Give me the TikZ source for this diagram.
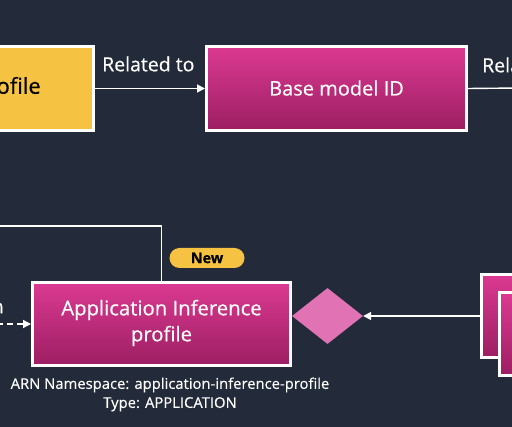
\documentclass[tikz,border=0pt]{standalone}
\usepackage{fontspec}
\setmainfont{Open Sans}[FakeBold=0.35]
\usetikzlibrary{shapes.geometric,arrows.meta}
\definecolor{bg}{HTML}{232B3A}
\definecolor{magtop}{HTML}{DB3A91}
\definecolor{magbot}{HTML}{9C1E62}
\definecolor{amber}{HTML}{F5C242}
\definecolor{dia}{HTML}{E173B5}
\tikzset{
  magbox/.style={draw=white, line width=3pt, top color=magtop, bottom color=magbot, inner sep=0pt, minimum height=83pt},
  ambbox/.style={draw=white, line width=3pt, fill=amber, inner sep=0pt, minimum height=84pt},
  lbl/.style={text=white, font=\fontsize{19.5}{22}\selectfont, inner sep=0pt},
  conn/.style={draw=white, line width=1.4pt, -{Triangle[width=8pt,length=8pt]}},
}
\begin{document}
\begin{tikzpicture}[x=1pt,y=-1pt]
\fill[bg] (0,0) rectangle (512,427);
\useasboundingbox (0,0) rectangle (512,427);
% top row
\node[ambbox, minimum width=192pt] (sys) at (-2.5,88.5) {};
\node[inner sep=0pt, anchor=east, font=\fontsize{22}{25}\selectfont] (systxt) at (41,88) {profile};
\node[magbox, minimum width=260pt, minimum height=84pt] (base) at (336.5,88.5) {};
\node[lbl, font=\fontsize{20}{23}\selectfont] (basetxt) at (336.5,88) {Base model ID};
\draw[conn] (sys.east) -- (base.west);
\node[lbl, anchor=west] (rel1) at (102,64) {Related to};
\coordinate (rightend) at (520,88);
\draw[draw=white, line width=1.4pt] (base.east) -- (rightend);
\node[lbl, anchor=west] (rel2) at (482,65) {Related to};
% bottom row
\node[magbox, minimum width=258pt] (app) at (161.5,324) {};
\node[lbl, font=\fontsize{20.3}{26}\selectfont, align=center] (apptxt) at (161.5,323) {Application Inference\\profile};
\node[fill=amber, rounded corners=10pt, minimum width=75pt, minimum height=20pt, inner sep=0pt, font=\bfseries\fontsize{14.5}{16}\selectfont] (new) at (207,258) {New};
\node[diamond, fill=dia, minimum width=71pt, minimum height=56pt, inner sep=0pt] (dm) at (327.5,316) {};
\node[magbox, minimum width=80pt] (r1) at (521,316) {};
\node[magbox, minimum width=80pt] (r2) at (539,334.5) {};
\draw[conn] (r1.west) -- (dm.east);
\coordinate (topleft) at (-5,226);
\draw[draw=white, line width=1.4pt] (topleft) -| (app.north);
\coordinate (dashstart) at (-3,324);
\draw[conn, dashed, dash pattern=on 6pt off 4pt] (dashstart) -- (app.west);
\node[lbl, anchor=east] (leftlbl) at (4,306) {Created from};
\node[text=white, align=center, inner sep=0pt, font=\fontsize{14.8}{19}\selectfont] (arn) at (170,394.5) {ARN Namespace: application-inference-profile\\Type: APPLICATION};
\end{tikzpicture}
\end{document}
